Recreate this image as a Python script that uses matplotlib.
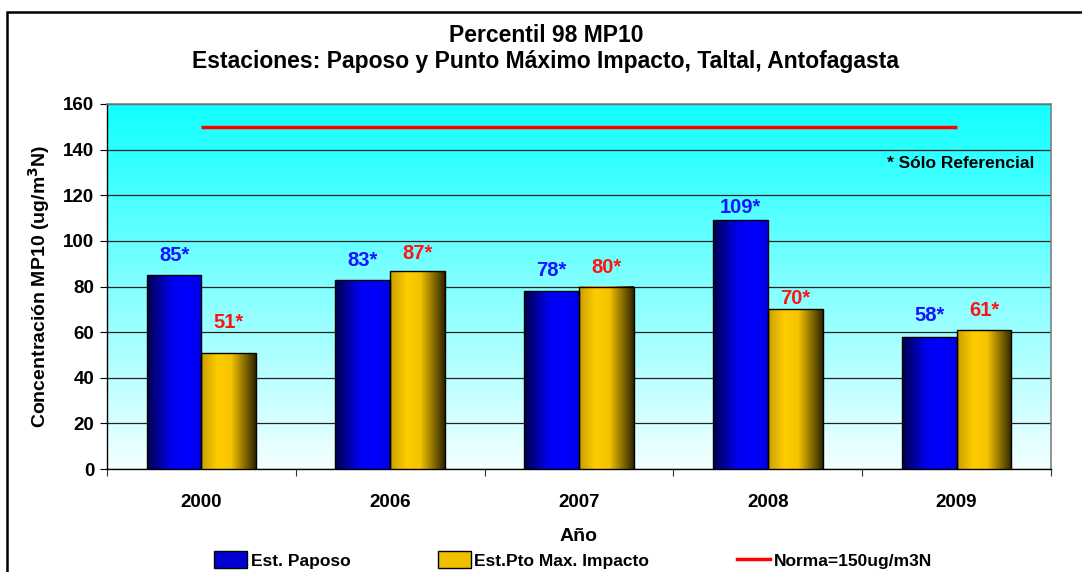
import matplotlib
matplotlib.use("Agg")
import matplotlib.pyplot as plt
import numpy as np
from matplotlib.patches import Rectangle, Patch
from matplotlib.lines import Line2D
from matplotlib.colors import LinearSegmentedColormap

# ---- data ----
years = ["2000", "2006", "2007", "2008", "2009"]
paposo = [85, 83, 78, 109, 58]
pto_max = [51, 87, 80, 70, 61]
norma = [150, 150, 150, 150, 150]
paposo_labels = ["85*", "83*", "78*", "109*", "58*"]
pto_labels = ["51*", "87*", "80*", "70*", "61*"]
series_names = ["Est. Paposo", "Est.Pto Max. Impacto", "Norma=150ug/m3N"]

# label offsets (points) - style only
paposo_dy = [14, 14, 15, 9, 15]
pto_dy = [22, 12, 14, 8, 14]

plt.rcParams['font.family'] = ['Liberation Sans', 'DejaVu Sans']
plt.rcParams['font.weight'] = 'bold'

W, H = 1082, 572
fig = plt.figure(figsize=(W / 100, H / 100), dpi=100)
fig.patch.set_facecolor('white')

ax = fig.add_axes([107 / W, 1 - 469 / H, 944 / W, 365 / H])

# background gradient
bg = LinearSegmentedColormap.from_list('bg', ['#F4FFFF', '#10FFFF'])
grad = np.linspace(0, 1, 256).reshape(-1, 1)
ax.imshow(grad, cmap=bg, aspect='auto', extent=[-0.5, 4.5, 0, 160],
          origin='lower', zorder=0)

x = np.arange(len(years))
bw = 0.29
blue_cmap = LinearSegmentedColormap.from_list(
    'bl', [(0, '#00004A'), (0.45, '#0000F0'), (0.75, '#0000FF'), (1, '#0000E0')])
gold_cmap = LinearSegmentedColormap.from_list(
    'gd', [(0, '#C89E00'), (0.3, '#FFCC00'), (0.55, '#F5C400'), (1, '#2E2400')])

hgrad = np.linspace(0, 1, 256).reshape(1, -1)

def grad_bars(xs, vals, cmap):
    bars = ax.bar(xs, vals, width=bw, color='none', edgecolor='black',
                  linewidth=1.0, zorder=4)
    for b in bars:
        x0, y0 = b.get_x(), b.get_y()
        im = ax.imshow(hgrad, cmap=cmap, aspect='auto',
                       extent=[x0, x0 + b.get_width(), y0, y0 + b.get_height()],
                       zorder=3)
        im.set_clip_path(b)
    return bars

bars1 = grad_bars(x - bw / 2, paposo, blue_cmap)
bars2 = grad_bars(x + bw / 2, pto_max, gold_cmap)

ax.plot(x, norma, color='#FF0000', lw=2.5, zorder=5, solid_capstyle='butt')

for b, t, dy in zip(bars1, paposo_labels, paposo_dy):
    ax.annotate(t, (b.get_x() + b.get_width() / 2, b.get_height()),
                xytext=(0, dy), textcoords='offset points', ha='center',
                va='center', color='#1414FF', fontsize=14.5, fontweight='bold', zorder=6)
for b, t, dy in zip(bars2, pto_labels, pto_dy):
    ax.annotate(t, (b.get_x() + b.get_width() / 2, b.get_height()),
                xytext=(0, dy), textcoords='offset points', ha='center',
                va='center', color='#FF1414', fontsize=14.5, fontweight='bold', zorder=6)

ax.set_xlim(-0.5, 4.5)
ax.set_ylim(0, 160)
ax.set_yticks(range(0, 161, 20))
ax.yaxis.grid(True, color='#222222', lw=0.9, zorder=1)
ax.set_axisbelow(True)
ax.set_xticks(np.arange(-0.5, 4.6, 1))
ax.set_xticklabels([])
ax.set_xticks(x, minor=True)
ax.set_xticklabels(years, minor=True)
ax.tick_params(axis='x', which='minor', length=0, pad=18, labelsize=13.5)
ax.tick_params(axis='x', which='major', length=5, direction='out', color='#333333')
ax.tick_params(axis='y', length=5, direction='out', labelsize=13.5, pad=4)
for lbl in ax.get_xticklabels(minor=True) + ax.get_yticklabels():
    lbl.set_fontweight('bold')
for s in ['top', 'right']:
    ax.spines[s].set_color('#808080')
    ax.spines[s].set_linewidth(1.2)
for s in ['left', 'bottom']:
    ax.spines[s].set_color('black')
    ax.spines[s].set_linewidth(1.0)

ax.set_xlabel('Año', fontsize=14, fontweight='bold', labelpad=12)
ax.set_ylabel('Concentración MP10 (ug/m$^3$N)', fontsize=14, fontweight='bold', labelpad=8)

fig.text(1034 / W, 1 - 163 / H, '* Sólo Referencial', ha='right', va='center',
         fontsize=12.5, fontweight='bold')

fig.text(546 / W, 1 - 35 / H, 'Percentil 98 MP10', ha='center',
         va='center', fontsize=16.5, fontweight='bold')
fig.text(546 / W, 1 - 62 / H,
         'Estaciones: Paposo y Punto Máximo Impacto, Taltal, Antofagasta',
         ha='center', va='center', fontsize=16.5, fontweight='bold')

handles = [Patch(facecolor='#0000D0', edgecolor='black', lw=1.0),
           Patch(facecolor='#F0C000', edgecolor='black', lw=1.0),
           Line2D([0], [0], color='#FF0000', lw=2.5)]
leg = fig.legend(handles, series_names, ncol=3, loc='center',
                 bbox_to_anchor=(573 / W, 1 - 560 / H), frameon=False,
                 fontsize=12.5, columnspacing=5.05, handlelength=1.9,
                 handleheight=1.1, handletextpad=0.2)
for t in leg.get_texts():
    t.set_fontweight('bold')

fig.add_artist(Rectangle((7 / W, -0.05), 1.2, 1 - 12 / H + 0.05,
                         transform=fig.transFigure, fill=False,
                         edgecolor='black', lw=1.8, clip_on=False))

fig.savefig('out.png', dpi=100)
